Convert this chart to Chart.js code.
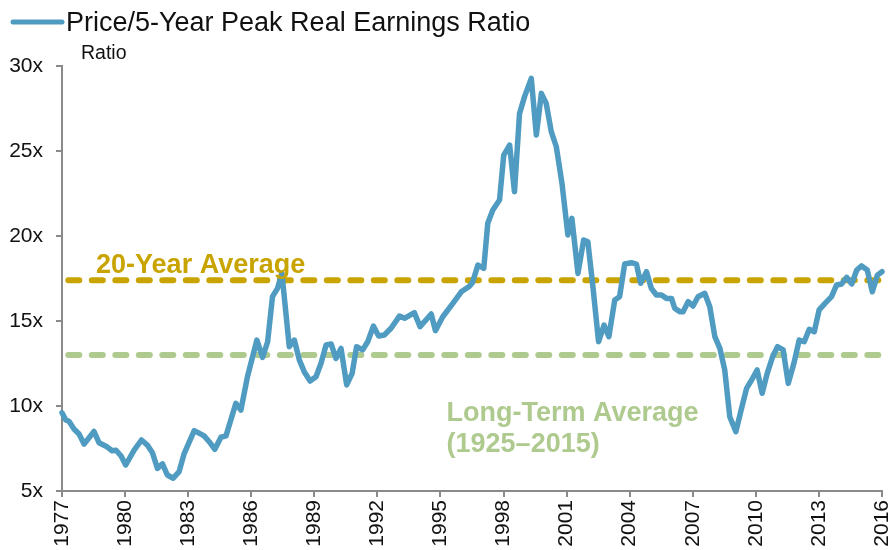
<!DOCTYPE html>
<html>
<head>
<meta charset="utf-8">
<script src="https://cdn.jsdelivr.net/npm/chart.js@4/dist/chart.umd.min.js"></script>
<style>
  html, body { margin: 0; padding: 0; background: #fff; }
  #wrap { width: 892px; height: 550px; }
</style>
</head>
<body>
<div id="wrap"><canvas id="peChart" width="892" height="550"></canvas></div>
<script>
// ----------------------------------------------------------
// Datos
// ----------------------------------------------------------
const seriesName = "Price/5-Year Peak Real Earnings Ratio";

const dates = [
  1977.00, 1977.18, 1977.33, 1977.57, 1977.81, 1978.05, 1978.52, 1978.76, 1979.14, 1979.38,
  1979.57, 1979.81, 1980.03, 1980.43, 1980.78, 1981.06, 1981.30, 1981.54, 1981.78, 1982.01,
  1982.29, 1982.57, 1982.81, 1983.29, 1983.76, 1984.00, 1984.27, 1984.56, 1984.80, 1985.27,
  1985.51, 1985.82, 1986.27, 1986.54, 1986.78, 1987.01, 1987.25, 1987.46, 1987.81, 1988.05,
  1988.29, 1988.52, 1988.80, 1989.08, 1989.32, 1989.56, 1989.80, 1990.03, 1990.27, 1990.54,
  1990.80, 1991.01, 1991.30, 1991.54, 1991.81, 1992.06, 1992.33, 1992.65, 1993.05, 1993.29,
  1993.76, 1994.03, 1994.56, 1994.76, 1995.11, 1995.59, 1995.99, 1996.38, 1996.52, 1996.78,
  1997.06, 1997.25, 1997.49, 1997.81, 1998.01, 1998.29, 1998.52, 1998.76, 1999.00, 1999.32,
  1999.56, 1999.80, 2000.03, 2000.27, 2000.51, 2000.78, 2001.06, 2001.25, 2001.54, 2001.81,
  2002.01, 2002.25, 2002.52, 2002.78, 2003.01, 2003.29, 2003.52, 2003.76, 2004.08, 2004.32,
  2004.52, 2004.80, 2005.03, 2005.27, 2005.51, 2005.75, 2005.99, 2006.14, 2006.38, 2006.54,
  2006.78, 2007.01, 2007.25, 2007.57, 2007.81, 2008.05, 2008.29, 2008.52, 2008.76, 2009.05,
  2009.32, 2009.56, 2009.80, 2010.06, 2010.30, 2010.54, 2010.80, 2011.03, 2011.30, 2011.54,
  2011.81, 2012.06, 2012.30, 2012.54, 2012.78, 2013.01, 2013.29, 2013.60, 2013.84, 2014.08,
  2014.32, 2014.56, 2014.80, 2015.03, 2015.30, 2015.54, 2015.78, 2016.00
];

const ratio = [
  9.60, 9.18, 9.10, 8.65, 8.35, 7.76, 8.50, 7.84, 7.60, 7.37,
  7.40, 7.06, 6.53, 7.40, 8.00, 7.70, 7.25, 6.33, 6.60, 5.94,
  5.75, 6.14, 7.20, 8.55, 8.24, 7.90, 7.45, 8.16, 8.24, 10.16,
  9.76, 11.72, 13.88, 12.86, 13.78, 16.43, 16.92, 17.80, 13.49, 13.88,
  12.70, 12.02, 11.47, 11.72, 12.51, 13.59, 13.65, 12.80, 13.39, 11.24,
  11.92, 13.49, 13.30, 13.78, 14.70, 14.12, 14.18, 14.57, 15.29, 15.16,
  15.49, 14.67, 15.41, 14.43, 15.25, 16.04, 16.72, 17.05, 17.25, 18.29,
  18.10, 20.75, 21.53, 22.12, 24.76, 25.35, 22.60, 27.20, 28.20, 29.27,
  25.94, 28.39, 27.80, 26.14, 25.25, 23.10, 20.06, 21.04, 17.80, 19.76,
  19.66, 17.02, 13.78, 14.76, 14.08, 16.24, 16.43, 18.35, 18.43, 18.35,
  17.22, 17.90, 16.92, 16.53, 16.53, 16.33, 16.33, 15.75, 15.55, 15.55,
  16.14, 15.88, 16.43, 16.63, 15.84, 14.08, 13.39, 12.12, 9.37, 8.49,
  9.86, 11.04, 11.53, 12.12, 10.75, 11.92, 12.90, 13.49, 13.30, 11.33,
  12.51, 13.88, 13.78, 14.51, 14.37, 15.65, 16.04, 16.43, 17.12, 17.18,
  17.57, 17.18, 18.00, 18.24, 18.00, 16.72, 17.70, 17.90
];

// Promedios de referencia (líneas discontinuas)
const avg20Year = 17.4;
const avgLongTerm = 13.0;
const avgSpan = [1977.3, 2016.1];

// Ejes
const yearMin = 1977;
const yearMax = 2016;
const yearStep = 3;
const ratioMin = 5;
const ratioMax = 30;
const ratioStep = 5;

// Colores
const blue = "#4F9BC1";
const gold = "#C9A400";
const green = "#AFCA8E";
const axisGray = "#8A8A8A";
const fontFamily = "'Liberation Sans', Arial, sans-serif";

// ----------------------------------------------------------
// Construcción de los puntos para Chart.js
// ----------------------------------------------------------
const seriesPoints = dates.map((d, i) => ({ x: d, y: ratio[i] }));
const avg20Points = avgSpan.map(d => ({ x: d, y: avg20Year }));
const avgLongPoints = avgSpan.map(d => ({ x: d, y: avgLongTerm }));

// ----------------------------------------------------------
// Plugin para la leyenda, el título "Ratio" y las etiquetas
// ----------------------------------------------------------
const labelsPlugin = {
  id: "labelsPlugin",
  afterDraw(chart) {
    const ctx = chart.ctx;
    const xs = chart.scales.x;
    const ys = chart.scales.y;
    ctx.save();

    // Leyenda
    ctx.strokeStyle = blue;
    ctx.lineWidth = 5;
    ctx.lineCap = "round";
    ctx.beginPath();
    ctx.moveTo(13, 22);
    ctx.lineTo(62, 22);
    ctx.stroke();
    ctx.fillStyle = "#111";
    ctx.font = "27px " + fontFamily;
    ctx.textBaseline = "alphabetic";
    ctx.textAlign = "left";
    ctx.fillText(seriesName, 66, 31);

    // Título del eje Y
    ctx.font = "19.5px " + fontFamily;
    ctx.fillText("Ratio", 81, 59);

    // Etiquetas de los promedios
    ctx.font = "bold 27px " + fontFamily;
    ctx.fillStyle = gold;
    ctx.fillText("20-Year Average", xs.getPixelForValue(1978.62), ys.getPixelForValue(17.85));
    ctx.fillStyle = green;
    ctx.fillText("Long-Term Average", xs.getPixelForValue(1995.29), ys.getPixelForValue(9.1));
    ctx.fillText("(1925\u20132015)", xs.getPixelForValue(1995.29), ys.getPixelForValue(7.28));

    ctx.restore();
  }
};

// ----------------------------------------------------------
// Gráfico
// ----------------------------------------------------------
const ctx = document.getElementById("peChart").getContext("2d");

new Chart(ctx, {
  type: "line",
  data: {
    datasets: [
      {
        label: "20-Year Average",
        data: avg20Points,
        borderColor: gold,
        borderWidth: 6,
        borderDash: [11, 12.5],
        borderCapStyle: "round",
        pointRadius: 0,
        clip: false,
        order: 2
      },
      {
        label: "Long-Term Average",
        data: avgLongPoints,
        borderColor: green,
        borderWidth: 6,
        borderDash: [11, 12.5],
        borderCapStyle: "round",
        pointRadius: 0,
        clip: false,
        order: 3
      },
      {
        label: seriesName,
        data: seriesPoints,
        borderColor: blue,
        borderWidth: 5.5,
        borderJoinStyle: "round",
        borderCapStyle: "round",
        pointRadius: 0,
        tension: 0,
        fill: false,
        clip: false,
        order: 1
      }
    ]
  },
  options: {
    responsive: false,
    animation: false,
    layout: { padding: { top: 66, right: 10, left: 0, bottom: 0 } },
    plugins: {
      legend: { display: false },
      tooltip: { enabled: false }
    },
    scales: {
      x: {
        type: "linear",
        min: yearMin,
        max: yearMax,
        afterFit(scale) {
          scale.height = 59;
          scale.paddingLeft = 0;
          scale.paddingRight = 0;
        },
        border: { color: axisGray, width: 2 },
        grid: { drawOnChartArea: false, drawTicks: true, tickLength: 6, color: axisGray, lineWidth: 2 },
        ticks: {
          stepSize: yearStep,
          autoSkip: false,
          minRotation: 90,
          maxRotation: 90,
          padding: 3,
          color: "#111",
          font: { family: fontFamily, size: 21 },
          callback: v => String(v)
        }
      },
      y: {
        min: ratioMin,
        max: ratioMax,
        afterFit(scale) { scale.width = 62; },
        border: { color: axisGray, width: 2 },
        grid: { drawOnChartArea: false, drawTicks: true, tickLength: 6, color: axisGray, lineWidth: 2 },
        ticks: {
          stepSize: ratioStep,
          padding: 13,
          color: "#111",
          font: { family: fontFamily, size: 21 },
          callback: v => v + "x"
        }
      }
    }
  },
  plugins: [labelsPlugin]
});
</script>
</body>
</html>
